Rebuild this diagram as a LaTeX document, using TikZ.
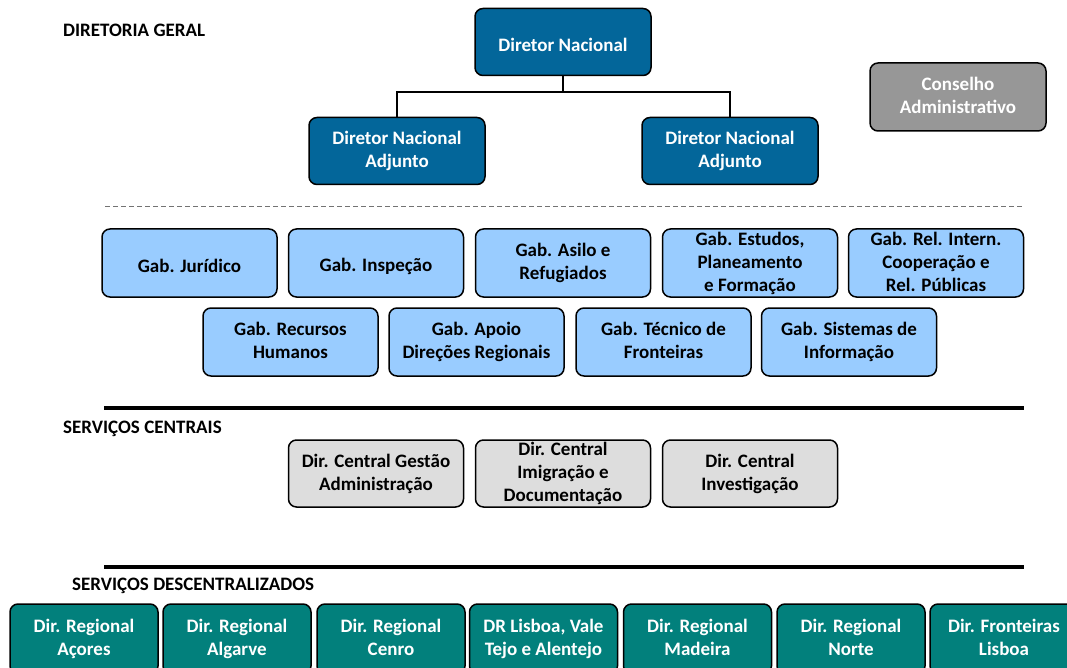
\documentclass[tikz,border=0pt]{standalone}
\usepackage{fontspec}
\setmainfont{Carlito}
\definecolor{dnblue}{HTML}{03669A}
\definecolor{gablue}{HTML}{99CCFF}
\definecolor{cgray}{HTML}{DDDDDD}
\definecolor{conselho}{HTML}{979797}
\definecolor{teal}{HTML}{02807C}
\newcommand{\topstrut}{\rule{0pt}{20.6pt}}
\newcommand{\botstrut}{\rule[-2.4pt]{0pt}{2.4pt}}
\tikzset{
  box/.style={draw=black, line width=1.5pt, rounded corners=8pt, align=center,
    font=\fontsize{19}{23}\selectfont\bfseries, inner sep=0pt,
    execute at begin node=\topstrut, execute at end node=\botstrut},
  dnbox/.style={box, fill=dnblue, text=white, minimum width=176pt, minimum height=67pt},
  conbox/.style={box, fill=conselho, text=white, minimum width=176pt, minimum height=68pt},
  gabbox/.style={box, fill=gablue, text=black, minimum width=175pt, minimum height=68pt},
  cenbox/.style={box, fill=cgray, text=black, minimum width=175pt, minimum height=67pt},
  regbox/.style={box, fill=teal, text=white, minimum width=148pt, minimum height=70pt},
  seclabel/.style={anchor=west, inner sep=0pt, font=\fontsize{19}{22}\selectfont\bfseries},
  conn/.style={draw=black, line width=1.5pt},
  hconn/.style={draw=black, line width=2.5pt},
  thick rule/.style={draw=black, line width=4pt},
}
\begin{document}
\begin{tikzpicture}[x=1pt, y=-1pt]
\useasboundingbox (0,0) rectangle (1067,668);
% section labels
\node[seclabel] (lblDG) at (63,30) {DIRETORIA GERAL};
\node[seclabel] (lblSC) at (63,429) {SERVIÇOS CENTRAIS};
\node[seclabel] (lblSD) at (72,586) {SERVIÇOS DESCENTRALIZADOS};
% top
\node[dnbox] (dn) at (563,42) {Diretor Nacional};
\node[dnbox] (dna1) at (397,151) {Diretor Nacional\\Adjunto};
\node[dnbox] (dna2) at (730,151) {Diretor Nacional\\Adjunto};
\node[conbox] (cons) at (958,97) {Conselho\\Administrativo};
\coordinate (jn) at (563,92);
\coordinate (jl) at (397,92);
\coordinate (jr) at (730,92);
\draw[conn] (dn.south) -- (jn);
\draw[conn] (dna1.north) -- (jl);
\draw[conn] (dna2.north) -- (jr);
\draw[hconn, line cap=rect] (jl) -- (jr);
% dashed rule
\coordinate (d1) at (105,206);
\coordinate (d2) at (1024,206);
\draw[draw=gray!90!black, line width=0.8pt, dash pattern=on 5pt off 3pt] (d1) -- (d2);
% gabinetes row 1
\node[gabbox] (g1) at (189.5,263) {Gab. Jurídico};
\node[gabbox] (g2) at (376,263) {Gab. Inspeção};
\node[gabbox] (g3) at (563,263) {Gab. Asilo e\\Refugiados};
\node[gabbox] (g4) at (750,263) {Gab. Estudos,\\Planeamento\\e Formação};
\node[gabbox] (g5) at (936,263) {Gab. Rel. Intern.\\Cooperação e\\Rel. Públicas};
% row 2
\node[gabbox] (g6) at (290.5,342) {Gab. Recursos\\Humanos};
\node[gabbox] (g7) at (476.5,342) {Gab. Apoio\\Direções Regionais};
\node[gabbox] (g8) at (663.5,342) {Gab. Técnico de\\Fronteiras};
\node[gabbox] (g9) at (849,342) {Gab. Sistemas de\\Informação};
% rule
\coordinate (r1a) at (104,408);
\coordinate (r1b) at (1024,408);
\draw[thick rule] (r1a) -- (r1b);
% central
\node[cenbox] (c1) at (376,473.5) {Dir. Central Gestão\\Administração};
\node[cenbox] (c2) at (563,473.5) {Dir. Central\\Imigração e\\Documentação};
\node[cenbox] (c3) at (750,473.5) {Dir. Central\\Investigação};
% rule
\coordinate (r2a) at (104,567);
\coordinate (r2b) at (1024,567);
\draw[thick rule] (r2a) -- (r2b);
% regional
\node[regbox] (d1r) at (84,639) {Dir. Regional\\Açores};
\node[regbox] (d2r) at (237,639) {Dir. Regional\\Algarve};
\node[regbox] (d3r) at (391,639) {Dir. Regional\\Cenro};
\node[regbox] (d4r) at (543.5,639) {DR Lisboa, Vale\\Tejo e Alentejo};
\node[regbox] (d5r) at (697.5,639) {Dir. Regional\\Madeira};
\node[regbox] (d6r) at (851,639) {Dir. Regional\\Norte};
\node[regbox] (d7r) at (1004,639) {Dir. Fronteiras\\Lisboa};
\end{tikzpicture}
\end{document}
